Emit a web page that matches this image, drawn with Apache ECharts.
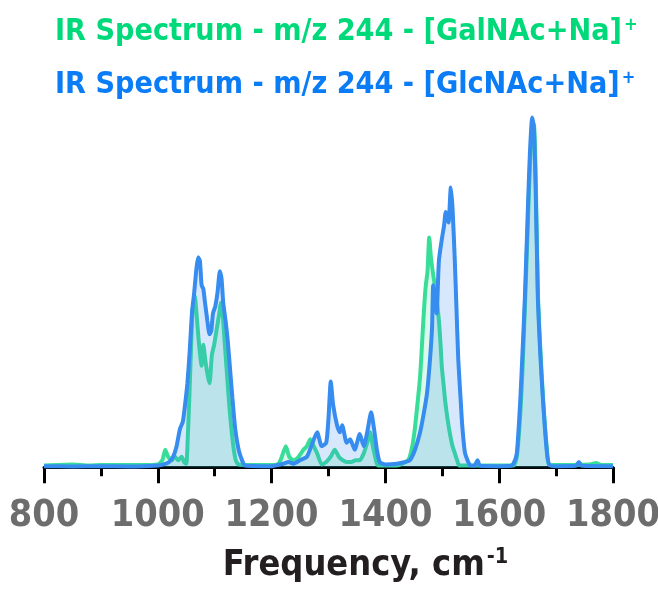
<!DOCTYPE html>
<html><head><meta charset="utf-8">
<script src="https://cdn.jsdelivr.net/npm/echarts@6/dist/echarts.min.js"></script>
<style>html,body{margin:0;padding:0;background:#fff}#c{width:658px;height:590px}</style>
</head><body><div id="c"></div>
<script>
// ---- data (frequency in cm-1, relative intensity) ----
const titleGal = 'IR Spectrum - m/z 244 - [GalNAc+Na]';
const titleGlc = 'IR Spectrum - m/z 244 - [GlcNAc+Na]';
const axisName = 'Frequency, cm';
const xTicks = [800, 1000, 1200, 1400, 1600, 1800];

const freqGal = [
  800,850,880,900,950,1000,1008,1013,1018,1025,
  1030,1036,1042,1046,1050,1053,1055,1058,1061,1063,
  1065,1068,1072,1077,1080,1084,1088,1091,1095,1099,
  1104,1108,1111,1114,1117,1121,1126,1132,1137,1142,
  1200,1212,1218,1225,1231,1238,1245,1256,1262,1268,
  1274,1280,1288,1296,1304,1311,1318,1325,1332,1340,
  1348,1355,1362,1368,1373,1378,1382,1387,1420,1440,
  1446,1451,1455,1461,1466,1469,1471,1474,1477,1480,
  1484,1487,1490,1494,1497,1499,1502,1505,1509,1514,
  1518,1522,1526,1530,1600,1625,1631,1637,1641,1645,
  1650,1654,1658,1661,1664,1668,1672,1677,1684,1689,
  1760,1770,1780,1800];
const intGal = [
  0.005,0.008,0.005,0.006,0.006,0.008,0.02,0.05,0.03,0.02,
  0.03,0.02,0.03,0.015,0.01,0.10,0.18,0.32,0.45,0.47,
  0.49,0.44,0.36,0.29,0.35,0.30,0.26,0.24,0.32,0.35,
  0.40,0.44,0.47,0.44,0.37,0.28,0.17,0.07,0.02,0.008,
  0.006,0.01,0.03,0.06,0.03,0.02,0.025,0.05,0.06,0.08,
  0.06,0.04,0.008,0.015,0.03,0.05,0.03,0.02,0.015,0.015,
  0.02,0.02,0.04,0.07,0.10,0.06,0.03,0.005,0.005,0.02,
  0.05,0.10,0.16,0.26,0.40,0.48,0.52,0.56,0.657,0.60,
  0.55,0.52,0.48,0.42,0.35,0.29,0.24,0.19,0.14,0.09,
  0.06,0.04,0.02,0.005,0.005,0.005,0.03,0.15,0.28,0.45,
  0.68,0.86,0.96,0.98,0.85,0.50,0.35,0.20,0.05,0.006,
  0.008,0.012,0.006,0.006];

const freqGlc = [
  800,850,900,950,1000,1010,1020,1027,1033,1039,
  1044,1048,1052,1056,1060,1064,1068,1071,1074,1077,
  1080,1083,1087,1091,1094,1097,1101,1105,1109,1112,
  1115,1119,1123,1127,1131,1136,1142,1148,1153,1200,
  1220,1230,1238,1250,1262,1271,1280,1288,1296,1300,
  1304,1308,1315,1320,1324,1332,1338,1346,1355,1362,
  1368,1375,1380,1385,1390,1400,1420,1435,1443,1452,
  1461,1467,1473,1478,1482,1484,1487,1490,1494,1499,
  1503,1506,1509,1511,1515,1518,1522,1525,1528,1532,
  1535,1540,1549,1556,1562,1566,1600,1620,1625,1631,
  1637,1641,1645,1650,1654,1658,1661,1664,1668,1672,
  1677,1684,1689,1700,1735,1740,1745,1800];
const intGlc = [
  0.003,0.002,0.003,0.002,0.005,0.008,0.015,0.03,0.06,0.11,
  0.13,0.18,0.24,0.33,0.44,0.50,0.57,0.60,0.59,0.52,
  0.51,0.47,0.42,0.38,0.39,0.44,0.46,0.50,0.56,0.54,
  0.47,0.42,0.36,0.28,0.20,0.11,0.05,0.02,0.005,0.003,
  0.01,0.015,0.01,0.02,0.03,0.066,0.10,0.06,0.07,0.14,
  0.245,0.18,0.12,0.10,0.12,0.07,0.08,0.05,0.095,0.06,
  0.10,0.157,0.11,0.05,0.015,0.008,0.01,0.015,0.02,0.05,
  0.10,0.15,0.21,0.30,0.40,0.52,0.48,0.44,0.59,0.65,
  0.69,0.73,0.71,0.70,0.80,0.74,0.59,0.45,0.31,0.20,
  0.12,0.04,0.005,0.004,0.02,0.004,0.003,0.004,0.01,0.04,
  0.19,0.33,0.48,0.72,0.90,1.0,0.97,0.80,0.48,0.33,
  0.19,0.04,0.005,0.003,0.004,0.015,0.004,0.003];

// ---- font selection ----
const ctx = document.createElement('canvas').getContext('2d');
function has(f){
  const s='IR Spectrum 0123456789 mwWi';
  for (const fb of ['monospace','serif']){
    ctx.font='bold 40px '+fb; const a=ctx.measureText(s).width;
    ctx.font='bold 40px "'+f+'", '+fb; const b=ctx.measureText(s).width;
    if (Math.abs(a-b)>0.5) return true;
  }
  return false;
}
const fam = ['Liberation Sans Narrow','DejaVu Sans Condensed','Noto Sans','Liberation Sans'].find(has) || 'sans-serif';
const FF = '"'+fam+'", sans-serif';
function fit(text, w){ ctx.font='bold 100px '+FF; return 100*w/ctx.measureText(text).width; }
const tSize = Math.min(fit(titleGal, 567), 44);
const lSize = Math.min(fit('1000', 94), 44);
const nSize = Math.min(fit(axisName, 262), 44);

const GREEN='#38DE98', BLUE='#378CF0';
function toPairs(f,v){ return f.map((x,i)=>[x, v[i]]); }

const chart = echarts.init(document.getElementById('c'), null, {renderer:'canvas'});
function mkTitle(text, color, top){
  return {
    text: '{a|'+text+'}{s|+}', left: 55, top: top, padding: 0,
    textStyle: { rich: {
      a: { fontFamily: FF, fontWeight:'bold', fontSize: tSize, color: color, lineHeight: tSize*1.1 },
      s: { fontFamily: FF, fontWeight:'bold', fontSize: tSize*0.6, color: color, verticalAlign:'top', lineHeight: tSize*0.6, padding:[0,0,0,2] }
    }}
  };
}
chart.setOption({
  animation:false,
  title:[ mkTitle(titleGal, '#00D97A', 16), mkTitle(titleGlc, '#0A7CF5', 69) ],
  grid:{ left:44, right:45, top:100, bottom:120, containLabel:false, outerBoundsMode:'none' },
  xAxis:{
    type:'value', min:800, max:1800, interval:200,
    axisLine:{ show:true, lineStyle:{ color:'#000', width:3 } },
    axisTick:{ show:true, length:16, lineStyle:{ color:'#000', width:3 } },
    minorTick:{ show:true, splitNumber:2, length:9, lineStyle:{ color:'#000', width:3 } },
    splitLine:{ show:false },
    axisLabel:{ fontFamily:FF, fontWeight:'bold', fontSize:lSize, color:'#6d6d6d', margin:27,
      formatter: v => xTicks.includes(v) ? String(v) : '' },
    name: '{a|'+axisName+'}{s|-1}', nameLocation:'middle', nameGap:76,
    nameTextStyle:{ rich:{
      a:{ fontFamily:FF, fontWeight:'bold', fontSize:nSize, color:'#231f20', lineHeight:nSize*1.1, padding:[0,0,0,74] },
      s:{ fontFamily:FF, fontWeight:'bold', fontSize:nSize*0.6, color:'#231f20', verticalAlign:'top', lineHeight:nSize*0.6, padding:[0,0,0,2] }
    }}
  },
  yAxis:{ type:'value', min:-0.008, max:1.05, show:false, splitLine:{show:false} },
  series:[
    { type:'line', data: toPairs(freqGal, intGal), showSymbol:false, smooth:0.2,
      lineStyle:{ color:GREEN, width:4 }, areaStyle:{ color:'rgba(52,222,150,0.25)' }, z:2 },
    { type:'line', data: toPairs(freqGlc, intGlc), showSymbol:false, smooth:0.2,
      lineStyle:{ color:BLUE, width:4 }, areaStyle:{ color:'rgba(54,140,240,0.28)' }, z:3 }
  ]
});
</script></body></html>
